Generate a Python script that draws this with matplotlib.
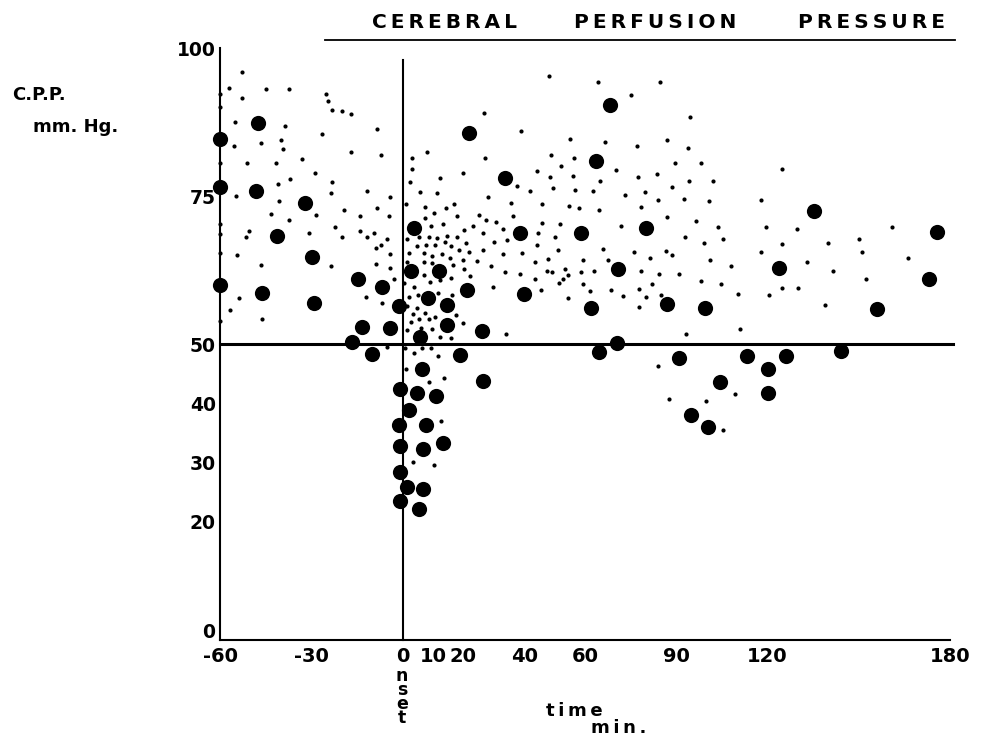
import matplotlib
matplotlib.use("Agg")
import matplotlib.pyplot as plt
from matplotlib.lines import Line2D

plt.rcParams['font.family'] = ['DejaVu Sans']
plt.rcParams['axes.unicode_minus'] = False

# ---- data: time (min) and CPP (mm Hg) ----
big_t = [-60, -60, -47.6, -48.3, -32.2, -41.3, 3.9,
         21.9, 68.2, 63.6, 33.6, 38.5, 58.8, 79.9,
         135.4, 175.6,
         -29.9, -60, -46.3, -29.0, -14.7, -6.8, -1.0, -13.2, -4.1, -16.7, -9.9,
         2.8, 12.1, 8.3, 14.7, 14.7, 5.6, 6.5, -0.8, 4.9, 11.1, 2.1, -1.0, 7.7,
         18.8, 21.1, 39.9, 70.9, 62.1, 86.8, 99.4, 26.0, 70.4, 64.6, 90.8, 26.6, 94.7, 100.5,
         123.7, 156.1, 173.0, 113.3, 126.1, 120.2, 144.2, 104.4, 120.3,
         -0.8, 6.6, 13.4, -0.8, 1.6, 6.6, -0.8, 5.5]
big_v = [84.7, 76.6, 87.4, 75.9, 73.9, 68.3, 69.6,
         85.7, 90.3, 80.9, 78.0, 68.7, 68.8, 69.6,
         72.5, 68.9,
         64.7, 60.0, 58.6, 56.9, 61.0, 59.7, 56.4, 52.8, 52.7, 50.3, 48.3,
         62.3, 62.3, 57.7, 56.6, 53.2, 51.2, 45.7, 42.4, 41.8, 41.3, 38.9, 36.3, 36.4,
         48.1, 59.1, 58.5, 62.6, 56.0, 56.8, 56.0, 52.2, 50.2, 48.6, 47.6, 43.8, 38.0, 35.9,
         62.8, 55.9, 60.9, 47.9, 47.9, 45.7, 48.9, 43.5, 41.8,
         32.7, 32.2, 33.2, 28.3, 25.9, 25.5, 23.5, 22.2]

small_t = [-52.8, -57.0, -44.8, -37.4, -52.9, -25.1, -24.5, -23.2, -19.9, -16.9, -55.1, -38.6,
           -8.5, -26.5, -55.3, -46.6, -39.9, -39.2, -16.9, -7.1, -32.9, -51.0, -41.7, -28.9,
           -37.1, -40.9, -23.1, -23.5, -11.8, -4.0, -54.8, -40.7, -19.2, -8.4, -28.5, -43.2,
           -13.9, -4.5, -37.4, -22.2, -14.1, -9.3, -30.6, -50.4, -51.3, -19.8, -11.7, -5.0,
           3.2, 8.1, 3.0, 12.3, 2.4, 5.9, 11.2, 1.2, 7.5, 14.2, 17.0, 10.5, 7.3, 9.5, 13.2,
           1.6, 5.5, 8.7, 11.4, 14.7,
           -60, -60, -60, -60, -60, -60, -60,
           48.2, 64.4, 84.6, 75.2, 26.9, 94.5, 39.0, 55.1, 66.7, 77.1, 86.9, 93.9, 27.1, 48.9,
           56.4, 52.1, 89.7, 98.3, 20.0, 44.2, 48.6, 56.0, 70.1, 77.5, 83.7, 94.1, 37.5, 41.9,
           49.4, 56.6, 62.7, 64.8, 88.7, 28.2, 35.7, 45.9, 54.8, 58.0, 64.5, 73.1, 79.6, 83.9,
           92.4, 100.9, 78.4, 86.9, 96.6, 17.8, 25.1, 27.3, 30.7, 36.4, 33.1, 23.1, 20.2, 26.6,
           17.8, 45.8, 51.8, 44.4, 50.2, 71.8, 93.0,
           124.9, 102.2, 117.9, 103.8, 119.6, 129.8, 160.9, 105.5, 150.0,
           -54.3, -46.4, -23.6, -8.6, -4.1, -4.0, -8.7, -7.2, -2.8, -53.7, -56.8, -46.3, -11.9,
           -6.6, -5.0,
           2.1, 4.8, 7.7, 10.7, 14.0, 16.0, 7.1, 9.8, 13.1, 15.6, 1.4, 7.0, 9.6, 16.7, 7.2, 9.1,
           12.3, 15.9, 0.6, 3.7, 5.2, 2.1, 11.8, 16.2, 1.4, 4.8, 7.4, 10.7, 3.3, 2.7, 5.5, 8.8,
           6.1, 9.8, 1.4, 12.4, 0.8, 3.9, 6.5, 9.3, 11.8, 1.2, 8.7, 13.7, 12.7,
           99.2, 18.7, 20.9, 21.9, 26.6, 30.0, 34.4, 44.2, 51.2, 32.9, 39.2, 19.9, 24.6, 29.0,
           20.1, 22.2, 33.6, 38.7, 43.5, 47.8, 43.5, 47.4, 49.0, 53.3, 54.4, 52.9, 51.3, 58.7,
           62.9, 59.2, 65.9, 67.6, 76.0, 81.4, 86.7, 88.6, 78.3, 84.4, 90.8, 98.1, 59.3, 61.6,
           68.6, 72.4, 77.7, 82.1, 80.1, 84.9, 77.7, 29.7, 45.4, 54.5, 17.6, 20.0, 34.1, 93.3,
           84.1, 87.6, 99.7, 15.9,
           124.9, 139.8, 151.2, 166.1, 117.9, 101.1, 107.9, 133.0, 141.4, 152.3, 104.6, 110.4,
           120.6, 124.9, 130.0, 139.0, 110.8, 109.3, 105.5,
           3.5, 10.3]
small_v = [96.0, 93.3, 93.0, 93.0, 91.6, 92.3, 91.0, 89.6, 89.4, 88.9, 87.5, 86.8,
           86.4, 85.5, 83.4, 84.0, 84.5, 83.0, 82.5, 81.9, 81.2, 80.6, 80.5, 78.9,
           77.9, 77.0, 77.3, 75.5, 75.9, 74.9, 75.0, 74.2, 72.6, 72.9, 71.8, 71.9,
           71.7, 71.6, 70.9, 69.7, 69.1, 68.7, 68.8, 69.1, 68.1, 68.0, 68.0, 67.8,
           81.5, 82.5, 79.5, 78.0, 77.3, 75.7, 75.5, 73.6, 73.1, 73.0, 73.6, 72.1, 71.2, 69.9, 70.2,
           67.7, 68.0, 68.0, 67.9, 68.3,
           92.3, 90.1, 80.6, 70.2, 68.6, 65.4, 53.9,
           95.2, 94.3, 94.2, 92.1, 89.0, 88.3, 86.0, 84.7, 84.2, 83.4, 84.4, 83.1, 81.4, 81.9,
           81.5, 80.0, 80.5, 80.5, 78.9, 79.2, 78.2, 78.3, 79.4, 78.2, 78.7, 77.5, 76.7, 75.8,
           76.4, 76.0, 75.8, 77.6, 76.6, 74.8, 73.8, 73.6, 73.3, 73.0, 72.6, 75.1, 75.7, 74.4,
           74.5, 74.2, 73.1, 71.4, 70.8, 71.7, 71.8, 71.0, 70.6, 71.7, 69.5, 70.0, 69.2, 68.8,
           68.0, 70.5, 70.3, 68.7, 68.1, 70.0, 68.0,
           79.6, 77.6, 74.4, 69.8, 69.8, 69.5, 69.8, 67.7, 67.7,
           65.0, 63.4, 63.2, 63.5, 62.8, 65.2, 66.3, 66.7, 60.9, 57.8, 55.7, 54.2, 57.9,
           57.0, 49.5,
           65.3, 66.6, 66.8, 66.7, 67.3, 66.6, 65.4, 64.9, 65.2, 64.5, 63.9, 63.9, 63.6, 63.3, 61.7, 60.4,
           60.8, 61.1, 60.3, 59.6, 58.3, 58.0, 58.6, 58.3, 56.5, 56.1, 55.2, 54.5, 55.1, 53.8, 54.2, 54.3,
           52.7, 52.5, 52.4, 51.1, 49.4, 48.4, 49.3, 49.3, 48.0, 45.7, 43.5, 44.3, 37.0,
           67.0, 65.9, 67.1, 65.5, 65.9, 67.3, 67.5, 66.7, 65.8, 65.2, 65.3, 64.2, 64.1, 63.2,
           62.6, 61.5, 62.2, 61.8, 63.9, 64.4, 60.9, 62.3, 62.1, 62.7, 61.7, 60.9, 60.3, 62.2,
           62.3, 64.2, 66.1, 64.2, 65.6, 64.6, 65.7, 65.0, 62.3, 61.9, 61.8, 60.6, 60.1, 59.0,
           59.1, 58.1, 59.3, 60.1, 57.9, 58.3, 56.2, 59.7, 59.2, 57.8, 54.9, 53.6, 51.7, 51.7,
           46.2, 40.7, 40.4, 51.0,
           66.9, 67.0, 65.5, 64.6, 65.6, 64.2, 63.1, 63.8, 62.4, 60.9, 60.1, 58.5,
           58.2, 59.4, 59.4, 56.6, 52.5, 41.6, 35.5,
           30.1, 29.6]

x_ticks = [-60, -30, 0, 10, 20, 40, 60, 90, 120, 180]
y_ticks = [20, 30, 40, 50, 75, 100]   # the "0" at the origin is drawn separately
title_words = ["CEREBRAL", "PERFUSION", "PRESSURE"]

TS = "\u2009"  # thin space for letter spacing

W, H = 1007, 736
fig = plt.figure(figsize=(W / 100, H / 100), dpi=100)
ax = fig.add_axes([220 / W, 1 - 640 / H, 730 / W, 592 / H])
ax.set_xlim(-60, 180)
ax.set_ylim(0, 100)
for s in ['top', 'right']:
    ax.spines[s].set_visible(False)
for s in ['left', 'bottom']:
    ax.spines[s].set_linewidth(1.5)

ax.set_xticks(x_ticks)
ax.set_xticklabels([str(t) for t in x_ticks], fontsize=14, fontweight='bold')
ax.set_yticks(y_ticks)
ax.set_yticklabels([str(t) for t in y_ticks], fontsize=13.5, fontweight='bold')
ax.tick_params(axis='both', length=0)
ax.tick_params(axis='x', pad=5)
ax.tick_params(axis='y', pad=3)

# origin "0" of the y axis, lifted slightly above the "-60" label
fig.text(215 / W, 1 - 633 / H, "0", ha='right', va='center', fontsize=13.5, fontweight='bold')

# reference lines
ax.plot([-60, 181], [50, 50], color='black', lw=2.2, clip_on=False, zorder=2)
ax.plot([0, 0], [0, 98], color='black', lw=1.5, clip_on=False, zorder=2)

ax.scatter(small_t, small_v, s=9, color='black', lw=0, clip_on=False, zorder=3)
ax.scatter(big_t, big_v, s=120, color='black', lw=0, clip_on=False, zorder=4)

# title with underline
for word, cx in zip(title_words, [445, 655, 872]):
    fig.text(cx / W, 1 - 22 / H, TS.join(word), ha='center', va='center',
             fontsize=14.5, fontweight='bold')
fig.add_artist(Line2D([325 / W, 955 / W], [1 - 40 / H, 1 - 40 / H], color='black', lw=1.3))

# y axis label
fig.text(12 / W, 1 - 95 / H, "C.P.P.", ha='left', va='center', fontsize=13, fontweight='bold')
fig.text(33 / W, 1 - 127 / H, "mm. Hg.", ha='left', va='center', fontsize=13, fontweight='bold')

# "onset" (the 0 tick label serves as the 'o')
fig.text(402 / W, 1 - 667 / H, "n\ns\ne\nt", ha='center', va='top', fontsize=12.5,
         fontweight='bold', linespacing=0.72)

fig.text(574 / W, 1 - 711 / H, TS.join("time"), ha='center', va='center',
         fontsize=13, fontweight='bold')
fig.text(619 / W, 1 - 728 / H, TS.join("min."), ha='center', va='center',
         fontsize=13, fontweight='bold')

fig.savefig("out.png", dpi=100, facecolor='white')
